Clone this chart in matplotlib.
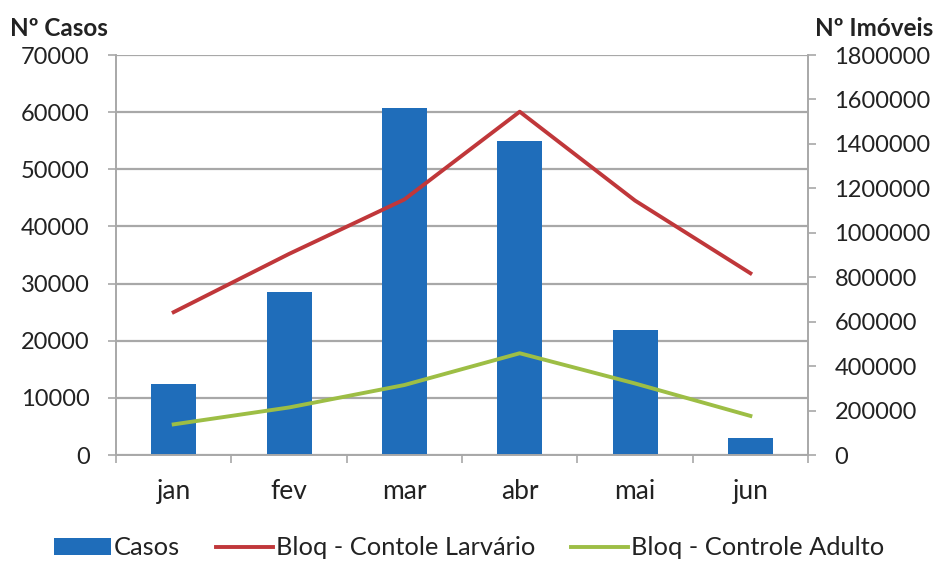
import matplotlib.pyplot as plt
import numpy as np
from matplotlib.ticker import MultipleLocator, StrMethodFormatter

plt.rcParams['font.family'] = ['Lato', 'DejaVu Sans']

meses = ['jan', 'fev', 'mar', 'abr', 'mai', 'jun']
casos = [12400, 28550, 60700, 54900, 21950, 2950]
controle_larvario = [643000, 905000, 1150000, 1545000, 1145000, 818000]
controle_adulto = [138000, 214000, 315000, 458000, 322000, 176000]

azul = '#1F6DBA'
vermelho = '#C0373A'
verde = '#9DBE45'
cinza = '#A8A8A8'
texto = '#222222'

fig = plt.figure(figsize=(9.44, 5.72), dpi=100)
ax = fig.add_axes([0.1229, 0.2045, 0.7331, 0.6993])
ax2 = ax.twinx()

x = np.arange(len(meses))
barras = ax.bar(x, casos, width=0.39, color=azul, zorder=2, label='Casos')

ax.set_xlim(-0.5, len(meses) - 0.5)
ax.set_ylim(0, 70000)
ax.yaxis.set_major_locator(MultipleLocator(10000))
ax.grid(axis='y', color=cinza, linewidth=1.6, zorder=0)
ax.set_axisbelow(True)

l1, = ax2.plot(x, controle_larvario, color=vermelho, linewidth=2.8, label='Bloq - Contole Larvário')
l2, = ax2.plot(x, controle_adulto, color=verde, linewidth=2.8, label='Bloq - Controle Adulto')
ax2.set_ylim(0, 1800000)
ax2.yaxis.set_major_locator(MultipleLocator(200000))
ax2.yaxis.set_major_formatter(StrMethodFormatter('{x:.0f}'))

# eixo x: marcas entre as categorias
ax.set_xticks(x)
ax.set_xticklabels(meses)
ax.set_xticks(np.arange(-0.5, len(meses)), minor=True)
ax.tick_params(axis='x', which='major', length=0, pad=17, labelsize=19, labelcolor=texto)
ax.tick_params(axis='x', which='minor', length=6, width=1.2, color=cinza)
ax.tick_params(axis='y', length=6, width=1.2, color=cinza, labelsize=17, pad=13, labelcolor=texto)
ax2.tick_params(axis='y', length=6, width=1.2, color=cinza, labelsize=17, pad=13, labelcolor=texto)

for a in (ax, ax2):
    a.spines['top'].set_visible(False)
    for lado in ('left', 'right', 'bottom'):
        a.spines[lado].set_color(cinza)
        a.spines[lado].set_linewidth(1.2)

fig.text(0.011, 0.951, 'Nº Casos', fontsize=17.5, fontweight='bold', ha='left', va='center', color=texto)
fig.text(0.863, 0.951, 'Nº Imóveis', fontsize=17.5, fontweight='bold', ha='left', va='center', color=texto)

leg = fig.legend([barras, l1, l2],
                 ['Casos', 'Bloq - Contole Larvário', 'Bloq - Controle Adulto'],
                 loc='center', bbox_to_anchor=(0.497, 0.042), ncol=3, frameon=False,
                 fontsize=18.3, handlelength=2.25, handletextpad=0.12, columnspacing=1.4)
for t in leg.get_texts():
    t.set_color(texto)

fig.savefig('out.png', dpi=100)
